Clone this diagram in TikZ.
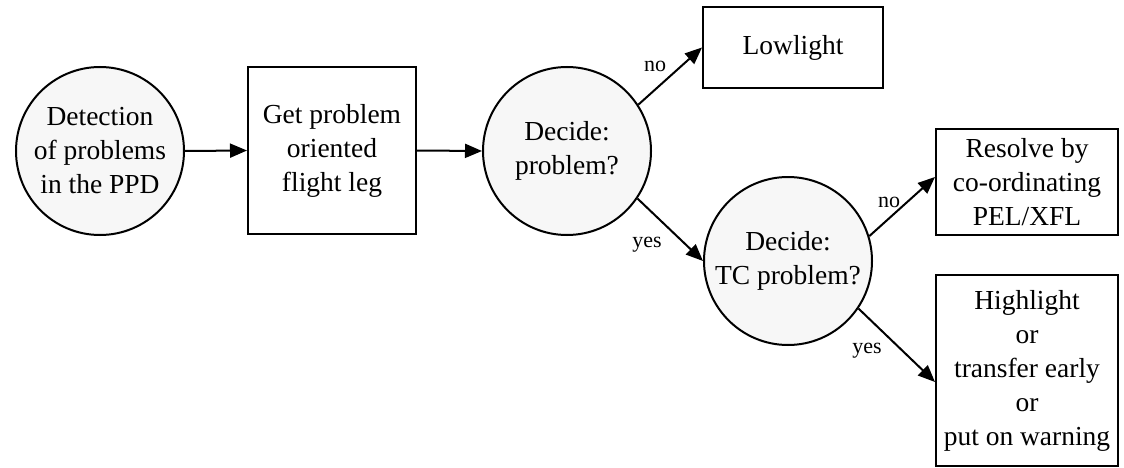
\documentclass[tikz,border=0pt]{standalone}
\usepackage{fontspec}
\setmainfont{Liberation Serif}
\usetikzlibrary{arrows.meta}
\begin{document}
\begin{tikzpicture}[x=1pt,y=-1pt,
  every node/.style={font=\fontsize{27.5}{34}\selectfont, align=center},
  stage/.style={circle, draw, line width=2pt, fill=gray!6, minimum size=168pt, inner sep=0pt},
  action/.style={rectangle, draw, line width=2pt, fill=white, inner sep=0pt},
  flow/.style={line width=2pt, -{Triangle[length=17pt,width=14pt]}},
  lbl/.style={font=\fontsize{22}{26}\selectfont, anchor=base, inner sep=0pt}]
\useasboundingbox (0,0) rectangle (1124,468);

% processing stages and decisions
\node[stage] (detect) at (100,151) {Detection\\of problems\\in the PPD};
\node[action, minimum width=168pt, minimum height=167pt] (leg) at (332,150.5) {Get problem\\oriented\\flight leg};
\node[stage] (dec1) at (567,151) {Decide:\\problem?};
\node[action, minimum width=180pt, minimum height=81pt] (low) at (793,47.5) {Lowlight};
\node[stage] (dec2) at (788,261) {Decide:\\TC problem?};
\node[action, minimum width=182pt, minimum height=106pt] (resolve) at (1027,182) {Resolve by\\co-ordinating\\PEL/XFL};
\node[action, minimum width=182pt, minimum height=191pt] (high) at (1027,370.5) {Highlight\\or\\transfer early\\or\\put on warning};

% connectors
\draw[flow] (detect.east) -- (leg.west);
\draw[flow] (leg.east) -- (dec1.west);
\draw[flow] (dec1.33) -- (low.west);
\draw[flow] (dec1.-34) -- (dec2.west);
\draw[flow] (dec2.17) -- ([yshift=5pt]resolve.west);
\draw[flow] (dec2.-34) -- ([yshift=-11.5pt]high.west);

% branch labels
\node[lbl] (no1) at (655,72) {no};
\node[lbl] (yes1) at (647,247) {yes};
\node[lbl] (no2) at (889,207) {no};
\node[lbl] (yes2) at (867,353) {yes};
\end{tikzpicture}
\end{document}
